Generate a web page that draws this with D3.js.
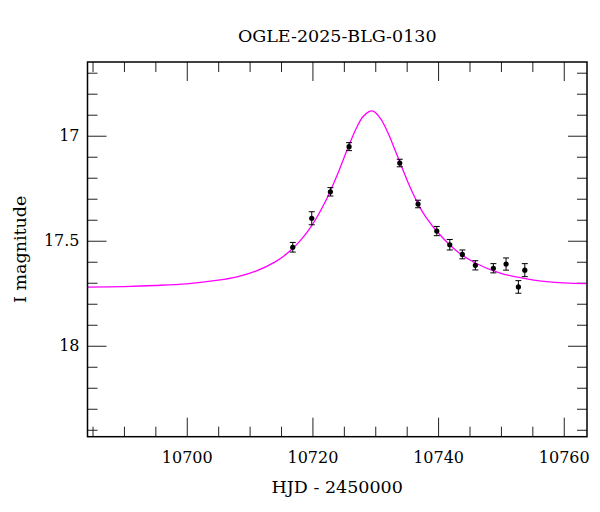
<!DOCTYPE html>
<html>
<head>
<meta charset="utf-8">
<script src="https://cdn.jsdelivr.net/npm/d3@7"></script>
<style>
  body { margin: 0; background: #fff; }
  svg { display: block; }
  .ax path { display: none; }
  .ax line { stroke: #222; stroke-width: 1; }
  .ax text { font-family: "DejaVu Serif", serif; font-size: 16px; fill: #000; }
  .lbl { font-family: "DejaVu Serif", serif; font-size: 17.5px; fill: #000; }
</style>
</head>
<body>
<svg width="600" height="512"></svg>
<script>
// observed points (HJD - 2450000, I mag, error)
var obsT = [10716.87, 10719.89, 10722.86, 10725.83, 10733.90, 10736.81, 10739.79,
            10741.86, 10743.86, 10745.93, 10748.80, 10750.82, 10752.78, 10753.80];
var obsMag = [17.531, 17.393, 17.267, 17.052, 17.130, 17.325, 17.454,
              17.519, 17.565, 17.617, 17.631, 17.611, 17.720, 17.640];
var obsErr = [0.023, 0.031, 0.020, 0.019, 0.018, 0.018, 0.022,
              0.025, 0.021, 0.022, 0.022, 0.029, 0.030, 0.031];

// model curve
var modelT = [10684, 10690, 10695, 10700, 10705, 10708, 10711, 10714, 10716, 10718,
              10720, 10722, 10724, 10725, 10726, 10727, 10728, 10729, 10729.5, 10730,
              10731, 10732, 10733, 10734, 10735, 10736, 10737, 10738, 10740, 10743,
              10746, 10750, 10755, 10760, 10764];
var modelMag = [17.721, 17.718, 17.713, 17.705, 17.688, 17.672, 17.645, 17.602, 17.560, 17.502,
                17.423, 17.317, 17.183, 17.107, 17.032, 16.963, 16.911, 16.885, 16.882, 16.889,
                16.926, 16.985, 17.057, 17.133, 17.207, 17.275, 17.335, 17.385, 17.462, 17.550,
                17.607, 17.655, 17.686, 17.701, 17.704];

var xMajor = [10700, 10720, 10740, 10760];
var yMajor = [17, 17.5, 18];

var margin = {left: 87.5, right: 13, top: 62, bottom: 75.3};
var width = 600, height = 512;

var svg = d3.select("svg");

var x = d3.scaleLinear().domain([10684.2, 10763.7]).range([margin.left, width - margin.right]);
var y = d3.scaleLinear().domain([16.649, 18.433]).range([margin.top, height - margin.bottom]);

var x0 = x.range()[0], x1 = x.range()[1], y0 = y.range()[0], y1 = y.range()[1];

var xMinor = d3.range(10685, 10764, 5).filter(function(v) { return xMajor.indexOf(v) < 0; });
var yMinor = d3.range(16.7, 18.45, 0.1).map(function(v) { return +v.toFixed(1); })
  .filter(function(v) { return v % 0.5 !== 0; });

// ticks on all four sides, pointing in
function addAxis(axisFn, scale, vals, len, pad, tr) {
  var a = axisFn(scale).tickValues(vals).tickSize(-len).tickPadding(pad || 0);
  if (pad) a.tickFormat(d3.format("")); else a.tickFormat("");
  svg.append("g").attr("class", "ax").attr("transform", tr).call(a);
}
addAxis(d3.axisBottom, x, xMinor, 10, 0, "translate(0," + y1 + ")");
addAxis(d3.axisBottom, x, xMajor, 19, 14.5, "translate(0," + y1 + ")");
addAxis(d3.axisTop, x, xMinor, 10, 0, "translate(0," + y0 + ")");
addAxis(d3.axisTop, x, xMajor, 19, 0, "translate(0," + y0 + ")");
addAxis(d3.axisLeft, y, yMinor, 10, 0, "translate(" + x0 + ",0)");
addAxis(d3.axisLeft, y, yMajor, 19, 8, "translate(" + x0 + ",0)");
addAxis(d3.axisRight, y, yMinor, 10, 0, "translate(" + x1 + ",0)");
addAxis(d3.axisRight, y, yMajor, 19, 0, "translate(" + x1 + ",0)");

svg.append("clipPath").attr("id", "clip")
  .append("rect").attr("x", x0).attr("y", y0).attr("width", x1 - x0).attr("height", y1 - y0);

var model = modelT.map(function(t, i) { return [t, modelMag[i]]; });
svg.append("path")
  .datum(model)
  .attr("clip-path", "url(#clip)")
  .attr("fill", "none")
  .attr("stroke", "#ff00ff")
  .attr("stroke-width", 1.3)
  .attr("d", d3.line().curve(d3.curveCatmullRom).x(function(d) { return x(d[0]); }).y(function(d) { return y(d[1]); }));

var pts = obsT.map(function(t, i) { return {t: t, m: obsMag[i], e: obsErr[i]}; });
var g = svg.append("g").selectAll("g").data(pts).enter().append("g");
g.append("line")
  .attr("x1", function(d) { return x(d.t); }).attr("x2", function(d) { return x(d.t); })
  .attr("y1", function(d) { return y(d.m - d.e); }).attr("y2", function(d) { return y(d.m + d.e); })
  .attr("stroke", "#000").attr("stroke-width", 1);
[-1, 1].forEach(function(s) {
  g.append("line")
    .attr("x1", function(d) { return x(d.t) - 3; }).attr("x2", function(d) { return x(d.t) + 3; })
    .attr("y1", function(d) { return y(d.m + s * d.e); }).attr("y2", function(d) { return y(d.m + s * d.e); })
    .attr("stroke", "#000").attr("stroke-width", 1);
});
g.append("circle")
  .attr("cx", function(d) { return x(d.t); }).attr("cy", function(d) { return y(d.m); })
  .attr("r", 2.6).attr("fill", "#000");

// frame
svg.append("rect").attr("x", x0).attr("y", y0).attr("width", x1 - x0).attr("height", y1 - y0)
  .attr("fill", "none").attr("stroke", "#000").attr("stroke-width", 1.5);

svg.append("text").attr("class", "lbl").attr("x", (x0 + x1) / 2).attr("y", 42)
  .attr("text-anchor", "middle").text("OGLE-2025-BLG-0130");
svg.append("text").attr("class", "lbl").attr("x", (x0 + x1) / 2).attr("y", 493)
  .attr("text-anchor", "middle").text("HJD - 2450000");
svg.append("text").attr("class", "lbl").attr("transform", "translate(26," + ((y0 + y1) / 2) + ") rotate(-90)")
  .attr("text-anchor", "middle").text("I magnitude");
</script>
</body>
</html>
